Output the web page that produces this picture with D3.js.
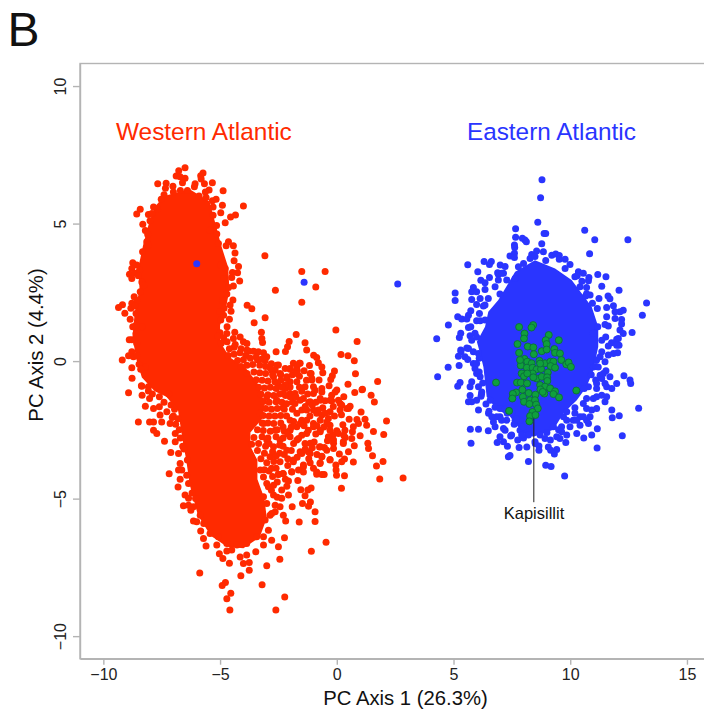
<!DOCTYPE html>
<html>
<head>
<meta charset="utf-8">
<style>
  html, body { margin: 0; padding: 0; background: #fff; }
  #chart { display: block; }
  text { font-family: "Liberation Sans", Arial, sans-serif; fill: #111; }
  .axis path, .axis line { stroke: #b4b4b4; stroke-width: 1.4px; fill: none; }
  .axis text { font-size: 16px; fill: #222; }
</style>
</head>
<body>
<svg id="chart" width="704" height="717"></svg>
<script src="https://cdn.jsdelivr.net/npm/d3@7"></script>
<script>
var xTicks = [-10, -5, 0, 5, 10, 15];
var yTicks = [-10, -5, 0, 5, 10];

// the middle of each cloud is overplotted to a solid patch, single points can't be read there
var westernCore = [[-7.4,6],[-6.3,6.25],[-5.45,5.8],[-5.2,5],[-4.95,4.2],[-4.65,3.4],[-4.6,2.6],[-4.75,1.9],[-5,1.3],[-5,0.7],[-4.6,0.15],[-3.9,-0.25],[-3.4,-0.8],[-3.1,-1.5],[-3.2,-2.1],[-3.7,-2.6],[-3.7,-3.1],[-3.4,-3.6],[-3.4,-4.3],[-3.1,-5],[-3,-5.7],[-3.3,-6.4],[-4,-6.8],[-4.7,-6.75],[-5.4,-6.35],[-5.95,-5.6],[-6.3,-4.5],[-6.45,-3.6],[-6.6,-2.9],[-6.8,-1.8],[-7.3,-1.3],[-7.8,-1.1],[-8.35,-0.6],[-8.6,0.1],[-8.75,0.9],[-8.65,1.8],[-8.45,2.6],[-8.5,3.4],[-8.3,4.2],[-8.05,5],[-7.8,5.6]];
var easternCore = [[8.49,3.67],[9.35,3.37],[10.06,2.95],[10.92,1.98],[11.2,1.25],[11.2,0.52],[10.99,-0.33],[10.7,-0.93],[10.28,-1.42],[9.71,-1.9],[9.28,-2.5],[8.42,-2.75],[7.99,-2.63],[7.4,-2],[6.85,-1.75],[6.42,-1.3],[6.28,-0.21],[6.14,0.28],[6,0.7],[6.35,1.25],[6.49,1.79],[6.92,2.22],[7.64,3.25]];

var westernPoints = [[-6.5,7.03],[-6.77,6.92],[-6.88,6.73],[-6.71,6.7],[-6.5,6.65],[-5.73,6.84],[-5.83,6.74],[-5.81,6.62],[-7.67,6.45],[-7.31,6.47],[-6.61,6.48],[-6.07,6.45],[-5.67,6.45],[-5.33,6.48],[-7.02,6.36],[-7.34,6.28],[-6.1,6.34],[-5.47,6.22],[-5.63,6.15],[-4.87,6.19],[-4,5.64],[-8.42,5.52],[-8.57,5.35],[-5.17,5.88],[-5.33,5.83],[-4.9,5.67],[-4.97,5.39],[-4.34,5.31],[-4.55,5.24],[-4.78,5.03],[-5.15,4.93],[-5.43,4.76],[-5.14,4.62],[-7.4,6.05],[-7,6.15],[-6.7,6.2],[-6.4,6.2],[-5.9,6],[-5.6,5.95],[-5.3,5.6],[-5.3,5.3],
[-8.31,4.98],[-8.07,5.33],[-7.92,5.37],[-7.68,5.52],[-7.52,5.88],[-8.14,4.34],[-8.07,4.22],[-8.32,3.98],[-8.74,3.58],[-8.57,3.49],[-8.78,3.37],[-8.88,3.16],[-8.64,3.19],[-8.78,3],[-8.35,2.88],[-8.25,2.76],[-8.42,2.52],[-8.68,2.34],[-8.78,2.1],[-9.18,2.05],[-9.35,1.95],[-9.08,1.74],[-8.82,1.92],[-8.6,1.73],[-8.85,1.52],[-8.74,1.25],[-8.35,1.25],[-8.89,0.78],[-8.78,0.78],[-8.57,0.64],[-8.78,0.34],[-8.92,0.19],[-8.71,0.16],[-9.19,0.04],[-8.47,-0.11],[-8.78,-0.24],[-8.21,-0.21],[-8.77,-0.62],[-8.37,-0.9],[-8.21,-0.45],[-8.07,-0.93],[-8,5.1],[-8.2,4.75],[-8.1,4.6],[-7.85,5.6],[-8.45,3.3],[-8.5,3.1],[-8.55,2.2],[-8.65,2],[-8.6,1.3],[-8.6,1],[-8.55,0.2],[-8.4,-0.3],
[-5.07,4.28],[-4.64,4.34],[-4.74,4.19],[-4.43,4.19],[-4.36,3.93],[-4.4,3.65],[-4.97,3.49],[-4.78,3.37],[-4.21,3.44],[-4.25,3.21],[-4.47,3.22],[-4.5,3.04],[-4.16,2.91],[-4.85,3],[-4.43,2.73],[-4.64,2.68],[-4.71,2.44],[-4.45,2.22],[-4.57,2.04],[-4.83,1.92],[-4.53,1.81],[-4.85,1.67],[-4.6,1.52],[-4.97,1.49],[-3.84,2.03],[-3.64,1.9],[-3.54,1.39],[-3.07,1.58],[-4.37,1.05],[-4.71,1],[-5,1.03],[-4.43,0.82],[-4.14,0.88],[-4,0.7],[-3.85,0.64],[-3.23,1.05],[-3.21,0.82],[-3.18,0.68],[-3.76,0.36],[-3.57,0.36],[-3.36,0.34],[-3.14,0.3],[-3,0.16],[-3.07,0.01],[-2.6,0.34],[-2.2,0.35],[-2.11,0.52],[-2.04,0.71],[-1.74,0.97],[-1.36,0.67],[-1.29,0.4],[-0.04,1.13],[0.87,0.71],[0.18,0.24],[0.48,0.19],[0.75,0.01],[-0.99,0.21],[-0.86,0.13],[-0.79,-0.06],[-1.17,-0.16],[-0.64,-0.21],[-0.6,-0.42],[-0.1,-0.36],[-0.19,-0.53],[-0.26,-0.67],[-0.76,-0.69],[-0.33,-0.9],[0.8,-0.46],[1.75,-0.74],[0.48,-0.84],[1.1,-1.02],[-1.86,-0.08],[-1.57,-0.08],[-1.71,-0.21],[-2,-0.27],[-2.21,-0.27],[-1.4,-0.35],[-1.69,-0.35],[-2.5,-0.14],[-2.64,-0.33],[-2.71,-0.57],[-2.14,-0.63],[-2,-0.75],[-1.71,-0.75],[-1.36,-0.93],[-1.07,-0.69],[-1.14,-0.45],[-1,-0.93],[-0.64,-1],[0,-1.05],[-4.9,2.2],[-5,1.8],[-4.7,1.25],[-5.1,0.9],[-4.85,0.85],[-4.4,0.5],[-4.1,0.45],[-3.9,0.2],[-3.4,0.05],[-2.8,-0.1],[-2.4,-0.5],[-2.5,-0.9],[-2.2,-1],[-1.9,-0.5],[-1.6,-0.55],[-1.3,-0.7],
[-3.08,3.83],[-1.5,3.26],[-0.5,3.26],[-0.9,2.69],[-2.63,2.58],[-1.5,2.14],
[0.77,-1.14],[1.08,-1.04],[1.47,-1.24],[1.61,-1.49],[1.04,-1.85],[2.13,-2.18],[2.01,-2.67],[1.57,-2.56],[1.21,-2.11],[0.86,-2.12],[0.53,-2.11],[0.93,-2.27],[1.28,-2.33],[0.26,-2.31],[0.71,-2.39],[0.67,-2.57],[0,-2.53],[-0.17,-2.69],[1,-2.71],[0.64,-2.81],[0.36,-2.78],[0.28,-2.93],[-0.14,-2.99],[0.75,-3.08],[0.5,-3.3],[0.11,-3.38],[1.33,-2.99],[1.36,-3.18],[1.53,-3.44],[1.98,-3.65],[1.7,-3.81],[1.84,-4.29],[2.84,-4.25],[0.71,-3.67],[0.33,-3.56],[0.21,-3.66],[-0.29,-3.6],[-0.64,-3.48],[-0.04,-3.78],[-0.03,-3.96],[-0.01,-4.15],[0.33,-4.17],[0.2,-4.62],[-0.54,-4.12],[-0.86,-4.11],[-1,-3.9],[-0.72,-3.72],[-1.14,-3.7],[-1.43,-3.84],[-1.64,-3.96],[-1.93,-4.02],[-1.67,-4.34],[-2.29,-4.1],[-2.5,-4.12],[-2.07,-4.36],[-2.14,-4.55],[-1.1,-4.61],[-1.24,-4.69],[-1.54,-4.68],[-1.36,-4.9],[-2.07,-4.87],[-2.36,-4.99],[-1.47,-5.18],[-1.13,-5.12],[-1.21,-5.28],[-1.91,-5.3],[-0.93,-5.48],[-0.93,-5.83],[-1.61,-5.85],[-2.19,-5.81],[-2.29,-5.6],[-2.43,-5.3],[-2.64,-5.24],[-2.71,-4.51],[-2.93,-4.57],[-2.36,-4.69],[-2.71,-4.87],[-2.64,-5.48],[-2.86,-5.6],[-2.93,-6.15],[-2.24,-6.42],[-0.46,-6.59],[-1.09,-6.91],[-2.5,-6.75],[-2.79,-6.51],[-3.14,-6.69],[-2.44,-7.2],[-3,-7.44],[-3.47,-6.93],[-3.75,-7.6],[-3.75,-7.32],[-4,-7.36],[-4.14,-7.12],[-4.6,-7.35],[-4.88,-7.18],[-5.03,-7],[-4.71,-6.9],[-4.11,-7.8],[-5.87,-7.7],[-4.77,-8.05],[-4.91,-8.16],[-4.54,-8.44],[-4.71,-8.64],[-3.2,-8.13],[-2.23,-8.58],[-4.58,-9.05],[-2.61,-9.05],
[-8.92,-1.15],[-8.35,-0.91],[-8.34,-1.24],[-8.02,-1.36],[-8.07,-1.09],[-8.2,-1.64],[-7.85,-1.72],[-7.6,-1.66],[-8.5,-2.21],[-8.02,-2.21],[-7.85,-2.21],[-7.57,-1.96],[-7.5,-2.21],[-7.85,-2.51],[-7.71,-2.63],[-7.38,-2.91],[-7.28,-1.84],[-7.14,-2.27],[-6.92,-2.63],[-6.92,-2.93],[-7.11,-3.32],[-6.78,-3.36],[-6.71,-3.72],[-6.78,-3.96],[-7.18,-4.1],[-6.64,-3.96],[-6.71,-4.3],[-6.8,-4.58],[-6.43,-4.15],[-6.35,-4.45],[-6.5,-4.87],[-6.35,-4.99],[-6.57,-5.26],[-6.35,-5.24],[-6.14,-5.3],[-6.25,-5.42],[-6.14,-5.81],[-6,-5.84],[-5.85,-5.6],[-5.83,-6.18],[-5.71,-6.45],[-5.43,-6.27],[-5.6,-6.72],[-5.14,-6.69],[-4.5,-6.87],[-3.86,-7.05],[-7.9,-1.2],[-7.6,-1.3],[-7.4,-1.5],[-7.2,-1.2],[-7,-2],[-6.8,-2.1],[-6.6,-3.1],[-6.4,-3.6],[-6.2,-4.8],[-6.05,-5],[-5.7,-5.9],[-5.07,-6.39],[-4.71,-6.63],[-4.28,-6.69],[-3.86,-6.63],[-3.43,-6.39],[-3.14,-6.39],[-3.07,-5.78],[-2.79,-5.54],[-3,-5.18],[-3.14,-4.93],[-3,-4.45],[-3.14,-4.21],[-3.28,-3.96],[-7.1,-1.6],[-6.95,-1.75],[-7.05,-2.05],[-6.9,-2.3],[-6.75,-2.5],[-6.7,-2.8],[-6.55,-3.2],
[-3,-1.3],[-2.57,-1.42],[-2,-1.18],[-1.57,-1.42],[-1,-1.18],[-0.71,-1.42],[-0.29,-1.42],[0.14,-1.54],[0.43,-1.72],[-0.86,-1.9],[-0.29,-1.84],[-1.29,-1.78],[-1.71,-1.9],[-2,-2.15],[-1,-2.27],[-0.43,-2.21],[0,-2.57],[-0.71,-2.51],[-1.29,-2.63],[-1.71,-2.87],[-2,-2.75],[-2.43,-2.87],[-2.86,-3.48],[-2.43,-3.66],[-1.86,-3.6],[-1.57,-3.3],[-1.22,-3.3],[-0.71,-3.11],[-0.43,-3.24],[-0.29,-2.33],[-1.14,-2.99],[-2.14,-3.24],[-2.71,-3.11],[-3,-2.87],[-3.28,-1.9],[-3.14,-2.27],[-2.64,-2.51],[-1.71,-2.39],[-2.3,-1.7],[-1.9,-1.5],[-1.5,-1.1],[-1.2,-1.5],[-0.6,-1.7],[-0.1,-2],[-2.3,-2.4],[-1.5,-2.15],[-0.9,-2.65],[-1.5,-2.7],[-2.3,-3.1],[-2.9,-3],[-2.9,-4],[-2.6,-3.9],[-2.1,-3.8],[-1.2,-3.55],[-0.85,-3.4],[-0.4,-2.9],[0.2,-1.95],[0.3,-2.7],
[-1.6,-0.08],[-2,-0.3],[-1.74,-0.35],[-1.1,-0.45],[-1.07,-0.63],[-0.93,-1.06],[-0.64,-1.12],[-0.07,-1.12],[-0.22,-1.24],[-0.71,-1.36],[-0.5,-1.44],[-0.22,-1.44],[0.07,-1.42],[0.21,-1.6],[0.5,-1.72],[0.57,-1.64],[0.14,-1.78],[-0.79,-1.78],[-0.64,-1.96],[-0.36,-2.09],[-0.71,-2.15],[-1,-2.39],[-1.22,-2.51],[-0.71,-2.57],[-0.29,-2.51],[-0.36,-2.75],[-0.14,-2.87],[0.07,-2.63],[0.35,-2.51],[0.28,-3],[-0.14,-3.18],[-0.53,-3.14],[-0.74,-3.12],[-0.97,-2.94],[-1.36,-3],[-1.64,-2.81],[-1.14,-3.36],[-1.5,-3.36],[-0.71,-3.7],[-0.64,-3.46],[-0.29,-3.58],[-1.43,-3.78],[-1.86,-3.66],[-0.64,-4.12],[-0.86,-4.03],[-1.43,-4.03],[-1.93,-4.03],[-2.31,-4.09],[-2.5,-4.11],[-2.79,-3.9],[-1.29,-2.15],[-1,-1.78],[-1.14,-1.48],[-1.43,-1.36],[-1.5,-1.78],[-1.57,-2.27],[-2,-2.51],[-1.79,-1.18],[-2,-0.94],[-2.14,-0.57],[-2.21,-0.87],[-2,-1.3],[-1.79,-1.54],[-2.29,-1.18],[-2.43,-0.45],[-2.57,-0.15],[-2.79,-0.33],[-1.71,-0.45],
[-4.95,0.65],[-4.7,0.7],[-4.6,0.45],[-4.35,0.6],[-4.65,0.2],[-4.4,0.25],[-4.15,0.3],[-3.85,0.4],[-4.25,0.02],[-4,0.05],[-3.7,0.1],[-3.45,0.15],[-3.2,0.08],[-4.1,-0.2],[-3.85,-0.15],[-3.6,-0.12],[-3.3,-0.15],[-3.05,-0.2],[-2.85,-0.25],[-3.85,-0.45],[-3.55,-0.4],[-3.3,-0.42],[-3.05,-0.45],[-2.75,-0.5],[-3.45,-0.68],[-3.2,-0.7],[-2.95,-0.72],[-2.65,-0.75],[-2.4,-0.7],[-3.35,-0.95],[-3.1,-0.98],[-2.85,-0.95],[-2.6,-1],[-2.35,-0.95],[-3.25,-1.2],[-2.95,-1.22],[-2.7,-1.25],[-2.45,-1.2],[-2.2,-1.25],[-3.15,-1.47],[-2.9,-1.5],[-2.6,-1.48],[-2.35,-1.5],[-3.05,-1.72],[-2.8,-1.75],[-2.55,-1.72],[-2.25,-1.75],[-3.15,-1.98],[-2.9,-2],[-2.65,-2],[-2.4,-1.98],[-2.15,-2],[-3.2,-2.25],[-2.95,-2.25],[-2.7,-2.27],[-2.4,-2.25],[-3.4,-2.5],[-3.15,-2.52],[-2.85,-2.55],[-2.55,-2.5],[-2.25,-2.55],[-3.55,-2.78],[-3.2,-2.75],[-2.95,-2.8],[-2.6,-2.75],[-2.3,-2.8],[-3.65,-3.02],[-3.35,-3],[-3.05,-3.1],[-2.45,-3.05],[-3.4,-3.25],[-3.1,-3.35],[-2.75,-3.3],[-2.45,-3.35],[-3.25,-3.55],[-3,-3.7],[-2.7,-3.65],[-3.1,-3.95],
[-2.15,-1.55],[-1.9,-1.75],[-1.75,-1.3],[-1.35,-1.65],[-1.6,-0.95],[-1.25,-1.2],[-1.05,-1.6],[-0.9,-1.5],[-1.15,-2],[-1.4,-2.35],[-1.85,-2.2],[-1.95,-2.4],[-2.1,-2.65],[-1.85,-3],[-1.95,-3.25],[-1.7,-3.5],[-1.35,-3.2],[-1.05,-3.15],[-0.85,-2.35],[-0.55,-2.4],[-0.5,-1.9],[-0.15,-1.65],[0.3,-1.3],[-2.1,-3.55],[-2.25,-3.4],[-2.6,-3.45],[-2.2,-4.3],[-2.75,-4.2],[-2.55,-4.4],[-2.8,-4.7],[-2.55,-4.95]];

var easternPoints = [[-6,3.54],[-1.4,2.87],[2.61,2.8],
[8.79,6.59],[8.73,5.94],[8.61,5.05],[7.66,4.81],[8.88,4.64],[8.95,4.64],[10.62,4.76],[7.66,4.5],[7.95,4.47],[8.06,4.4],[8.12,4.34],[8.78,4.27],[11.05,4.41],[12.47,4.41],[7.61,4.22],[7.62,4.13],[10.83,3.9],[7.61,3.92],[7.42,3.82],[7.61,3.77],[8.56,4],[8.85,3.98],[8.35,3.88],[8.28,3.73],[8.49,3.8],[8.95,3.66],[9.21,3.85],[9.38,3.89],[9.53,3.84],[9.53,3.7],[9.78,3.7],[6.31,3.62],[6.62,3.62],[6.54,3.51],[5.61,3.5],[7,3.49],[7.21,3.44],[9.99,3.51],[9.78,3.37],[6.04,3.25],[8,3.55],[7.78,3.43],[7.14,3.19],[6.92,3.16],[6.54,3.04],[6.17,2.94],[6.35,2.85],[10.35,3.25],[10.56,3.19],[10.2,3.07],[11.18,3.15],[11.53,3.07],[10.8,3.04],[10.78,2.92],[11.35,2.72],[12.09,2.58],[10.42,2.7],[10.7,2.68],[5.85,2.68],[5.78,2.52],[5.07,2.48],[5.07,2.2],[5.78,2.24],[5.99,2.52],[6.14,2.28],[6.35,2.6],[6.78,2.7],[6.99,2.44],[10.85,2.4],[10.66,2.37],[11.23,2.28],[11.62,2.37],[11.7,2.27],[10.95,2.1],[13.27,2.11],[13.09,1.67],[5.99,2.06],[6.28,2],[5.74,1.83],[5.64,1.67],[5.18,1.61],[5.35,1.53],[5.57,1.53],[6.11,1.73],[5.99,1.47],[6.14,1.47],[4.78,1.31],[5.64,1.22],[5.74,1.25],[5.31,1.01],[5.25,0.86],[4.28,0.81],[5.71,0.92],[5.78,0.76],[5.57,0.48],[5.31,0.4],[5.92,1.01],[11.16,1.91],[11.56,1.95],[11.85,2.01],[12.27,1.85],[12.13,1.79],[11.92,1.79],[11.56,1.61],[11.92,1.55],[12.2,1.51],[11.18,1.25],[11.49,1.33],[11.63,1.28],[12.2,1.35],[12.13,1.13],[12.27,1],[12.65,1.04],[11.52,0.88],[11.99,0.79],[11.77,0.67],[12.09,0.58],[11.35,0.76],[10.99,1.01],
[7.28,2.95],[7.64,3],[6.49,2.28],[6.35,2.04],[6.35,1.49],[5.99,0.88],[6.89,3.21],[7.06,3.19],[6.92,2.95],[10.3,3.1],[10.7,2.45],[10.5,2.9],
[12.06,0.82],[11.99,0.58],[11.63,0.55],[5.64,0.46],[5.32,0.34],[5.21,0.18],[5.49,0.16],[5.61,0.06],[5.24,-0.16],[4.77,-0.22],[4.32,-0.57],[5.85,-0.09],[5.92,-0.27],[5.99,-0.45],[5.78,-0.75],[5.28,-0.78],[5.18,-0.91],[5.71,-0.93],[5.71,-1.25],[5.64,-1.48],[5.78,-1.48],[5.99,-1.42],[6.18,-1.28],[6.07,-1.78],[6.39,-1.56],[6.52,-1.82],[6.78,-1.68],[6.99,-1.72],[6.71,-2.21],[6.99,-2.02],[5.72,-2.48],[6.07,-2.48],[6.49,-2.53],[5.75,-2.99],[6.87,-2.96],[6.99,-2.75],[7.14,-2.45],[7.45,-2.72],[7.14,-2.93],[7.31,-3.1],[7.81,-3.14],[7.75,-2.87],[8.14,-3.12],[8.21,-2.69],[8.66,-3.09],[8.66,-3.24],[9.06,-3.12],[9.16,-3.24],[9.42,-3.21],[9.32,-3.38],[9.81,-2.96],[9.15,-2.87],[9.56,-2.81],[7.35,-3.48],[7.42,-3.43],[8.21,-3.65],[8.95,-3.79],[9.18,-3.83],[9.76,-4.18],[11.15,-3.16],[12.23,-2.71],[10.58,-2.8],[11.16,-2.46],[10.92,-2.69],[10.78,-2.27],[10.28,-2.63],[9.85,-2.69],[10.42,-2.02],[10.13,-2.15],[9.71,-2.02],[9.85,-1.84],[10.7,-1.36],[10.99,-1.36],[11.49,-1.48],[11.78,-1.78],[11.8,-2.06],[12.1,-1.99],[12.93,-1.71],[10.56,-1.54],[11.13,-1.72],[11.35,-1.24],[11.56,-0.93],[11.99,-0.81],[11.78,-1],[12.56,-0.69],[12.59,-0.81],[12.3,-0.53],[11.53,-0.35],[11.7,-0.57],[11.28,-0.51],[11.09,-0.69],[11.13,0.04],[10.99,-0.21],[11.85,0.28],[12.03,0.3],[11.63,0.22],[11.35,0.34],[11.49,-0.02],[10.78,-0.93],[11.13,-1],[10.92,-1.78],[7.28,-2.15],[7.85,-2.51],[8.71,-2.69],[9.28,-2.39],[9.63,-2.39],[6.25,-0.8],[6.2,-1.2],[6.5,-1.9],[7.3,-1.9],[7.6,-2.3],[8,-2.8],[8.5,-3],[9,-2.6],[9.5,-2.5],[10.2,-1.7],[10.6,-1],[10.9,-0.5],[11.1,-0.2],[6.1,0.1],[6.1,-0.4],
[6.85,-2.02],[7.06,-2.15],[7.21,-2.51],[7.49,-2.69],[7.64,-2.15],[7.85,-2.15],[7.99,-2.39],[7.92,-2.69],[8.49,-2.93],[8.92,-2.81],[9.42,-2.75],[9.63,-2.57],[9.99,-2.39],[10.42,-2.33],[10.7,-2.15],[10.2,-1.9],[10.7,-1.72],[10.56,-2.02],[10.85,-2.02],[9.85,-2.15],[10.28,-2.15],[11.13,-0.81],[11.35,-0.63],[11.49,-0.81],[11.13,-1.3],[11.56,-1.3],[11.42,-0.45],[11.2,-0.21],[11.28,0.16],[6.57,-1.42],[6.64,-2.02],[6.78,-2.39],[6.07,0.28],[5.85,0.34],[5.99,-0.09],[6.14,-0.57],[6.07,-0.93],[6.21,-1.12],[7.2,-1.75],[7.5,-1.85],[7.7,-2.1]];

var greenPoints = [[7.81,1.24],[8.41,1.31],[8.34,1.22],[8.04,1],[8.02,0.82],[7.74,0.62],[9.08,0.95],[9.51,0.76],[8.95,0.76],[8.99,0.62],[8.18,0.53],[8.42,0.5],[8.78,0.36],[8.99,0.42],[9.32,0.44],[9.35,0.3],[9.56,0.28],[7.81,0.3],[8.44,0.25],[8.04,0.08],[9.62,0.04],[9.83,-0.12],[9.93,-0.05],[10.03,-0.21],[7.88,-0.16],[8.16,-0.02],[8.35,-0.08],[8.68,0.01],[8.92,-0.08],[9.15,-0.02],[9.28,-0.02],[9.16,-0.18],[9.35,-0.24],[8.14,-0.24],[8.39,-0.24],[8.56,-0.3],[8.75,-0.29],[9.04,-0.41],[8.39,-0.45],[7.92,-0.45],[8.02,-0.55],[8.16,-0.45],[8.56,-0.63],[8.78,-0.57],[9.01,-0.59],[9.02,-0.72],[8.42,-0.59],[7.72,-0.78],[7.88,-0.78],[8.15,-0.81],[8.71,-0.87],[8.92,-0.93],[8.72,-1.03],[9.14,-0.99],[10.26,-1.07],[7.95,-1.04],[9.35,-1.1],[8.22,-1.16],[8.51,-1.22],[8.89,-1.18],[9.28,-1.2],[9.52,-1.32],[7.68,-1.14],[7.54,-1.19],[7.52,-1.36],[7.97,-1.3],[8.02,-1.48],[8.28,-1.42],[8.49,-1.42],[8.25,-1.56],[8.54,-1.58],[8.61,-1.72],[7.38,-1.81],[8.38,-1.85],[8.28,-2],[8.25,-2.19],[8.51,-1.96],[8.82,-1.12],[7.85,0.04],[8.71,-0.09],[6.82,-0.78]];

var labelLine = [[8.44,-2.07],[8.44,-5.13]];

var margin = {top: 63.5, right: 0, bottom: 58.3, left: 80},
    width = 704 - margin.left - margin.right,
    height = 717 - margin.top - margin.bottom;

var x = d3.scaleLinear()
    .domain([-11, 15.73])
    .range([0, width]);

var y = d3.scaleLinear()
    .domain([-10.82, 10.82])
    .range([height, 0]);

var svg = d3.select("#chart")
    .append("g")
    .attr("transform", "translate(" + margin.left + "," + margin.top + ")");

svg.append("rect")
    .attr("width", width + 2)
    .attr("height", height)
    .attr("fill", "none")
    .attr("stroke", "#b4b4b4")
    .attr("stroke-width", 1.4);

var xAxis = d3.axisBottom(x).tickValues(xTicks).tickSize(6).tickPadding(4).tickSizeOuter(0);
var yAxis = d3.axisLeft(y).tickValues(yTicks).tickSize(7).tickPadding(7).tickSizeOuter(0);

svg.append("g")
    .attr("class", "x axis")
    .attr("transform", "translate(0," + height + ")")
    .call(xAxis);

svg.append("g")
    .attr("class", "y axis")
    .call(yAxis)
    .selectAll("text")
    .attr("transform", "rotate(-90)")
    .attr("x", 0)
    .attr("dy", 0)
    .attr("y", -14)
    .style("text-anchor", "middle");

var outline = d3.line()
    .x(function(d) { return x(d[0]); })
    .y(function(d) { return y(d[1]); })
    .curve(d3.curveLinearClosed);

function drawDots(points, color) {
    svg.append("g")
        .selectAll("circle")
        .data(points)
        .enter().append("circle")
        .attr("r", 3.5)
        .attr("cx", function(d) { return x(d[0]); })
        .attr("cy", function(d) { return y(d[1]); })
        .attr("fill", color);
}

svg.append("path").attr("d", outline(westernCore)).attr("fill", "#ff2a00");
drawDots(westernPoints, "#ff2a00");

svg.append("path").attr("d", outline(easternCore)).attr("fill", "#2a35ff");
drawDots(easternPoints, "#2a35ff");

svg.append("line")
    .attr("x1", x(labelLine[0][0]))
    .attr("y1", y(labelLine[0][1]))
    .attr("x2", x(labelLine[1][0]))
    .attr("y2", y(labelLine[1][1]))
    .attr("stroke", "#222")
    .attr("stroke-width", 1);

svg.append("g")
    .selectAll("circle")
    .data(greenPoints)
    .enter().append("circle")
    .attr("r", 3.5)
    .attr("cx", function(d) { return x(d[0]); })
    .attr("cy", function(d) { return y(d[1]); })
    .attr("fill", "#0fa03c")
    .attr("stroke", "#0b6e3a")
    .attr("stroke-width", 0.9);

var page = d3.select("#chart");

//labels
page.append("text").attr("x", 7.5).attr("y", 45.6).style("font-size", "48px").text("B");

page.append("text").attr("x", 116).attr("y", 140).style("font-size", "24.4px").style("fill", "#ff2a00").text("Western Atlantic");
page.append("text").attr("x", 467).attr("y", 140).style("font-size", "24.3px").style("fill", "#2a35ff").text("Eastern Atlantic");

page.append("text").attr("x", 534).attr("y", 519).style("font-size", "16.5px").style("text-anchor", "middle").text("Kapisillit");

page.append("text").attr("x", 405.5).attr("y", 705).style("font-size", "20.3px").style("text-anchor", "middle").text("PC Axis 1 (26.3%)");

page.append("text")
    .attr("transform", "translate(43,345) rotate(-90)")
    .style("font-size", "20.3px")
    .style("text-anchor", "middle")
    .text("PC Axis 2 (4.4%)");
</script>
</body>
</html>
